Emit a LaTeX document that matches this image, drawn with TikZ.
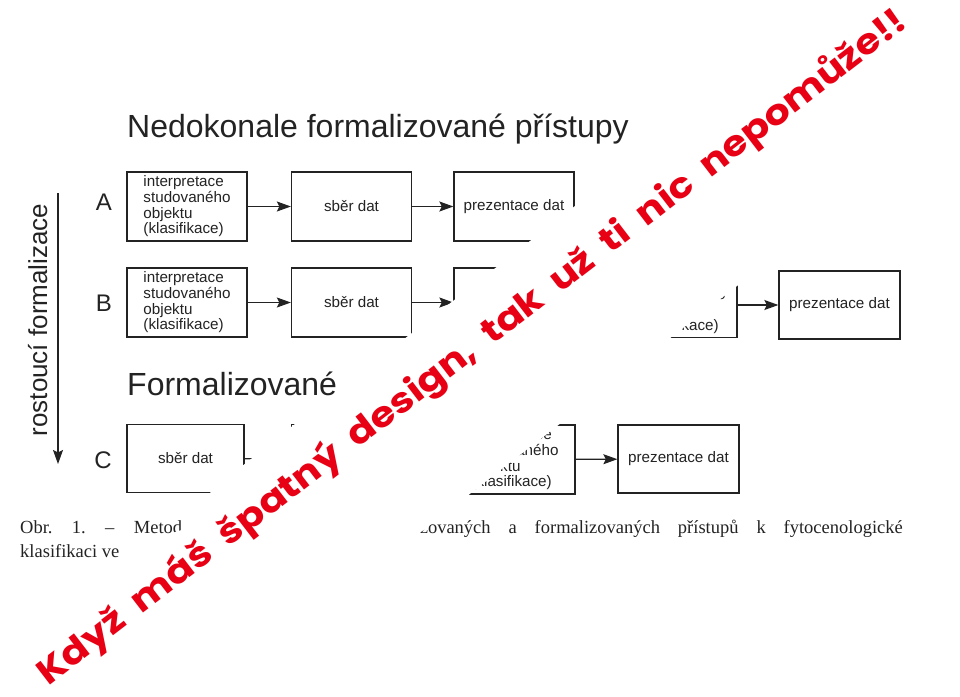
\documentclass[tikz,border=0pt]{standalone}
\usepackage{fontspec}
\usepackage{graphicx}
\setmainfont{Liberation Sans}
\newfontfamily\capfont{Liberation Serif}
\newfontfamily\memefont{Poppins}
\usetikzlibrary{arrows.meta}
\definecolor{ink}{RGB}{35,35,35}
\definecolor{memered}{RGB}{232,0,20}
\begin{document}
\begin{tikzpicture}[x=1pt,y=-1pt,
  box/.style={draw=ink, line width=1.3pt, minimum width=120pt, minimum height=69pt,
    inner sep=0pt, align=left, text=ink, font=\fontsize{15.2}{15.7}\selectfont},
  flow/.style={draw=ink, line width=1.3pt, -{Stealth[length=14pt,width=10pt,inset=2.5pt]}},
  rowlab/.style={inner sep=0pt, text=ink, font=\fontsize{24}{24}\selectfont},
  heading/.style={inner sep=0pt, anchor=base west, text=ink, font=\fontsize{32}{32}\selectfont},
  captext/.style={inner sep=0pt, text=ink, font=\capfont\fontsize{18.5}{22}\selectfont}]
\useasboundingbox (0,0) rectangle (960,696);
\fill[white] (0,0) rectangle (960,696);

% headings
\node[heading] (h1) at (127,137) {Nedokonale formalizované přístupy};
\node[heading] (h2) at (127,395) {Formalizované};

% growing formalisation axis
\coordinate (axtop) at (58,193);
\coordinate (axbot) at (58,464);
\draw[draw=ink, line width=1.2pt, -{Stealth[length=14pt,width=10pt,inset=2.5pt]}] (axtop) -- (axbot);
\node[rotate=90, anchor=base, inner sep=0pt, text=ink, font=\fontsize{26}{26}\selectfont] (axlab) at (47,320) {rostoucí formalizace};

% row labels
\node[rowlab] (la) at (104,202) {A};
\node[rowlab] (lb) at (104,303) {B};
\node[rowlab] (lc) at (103,460) {C};

% row A
\node[box] (a1) at (187,206.5) {interpretace\\studovaného\\objektu\\(klasifikace)};
\node[box] (a2) at (351.5,206.5) {sběr dat};
\node[box] (a3) at (514,206.5) {prezentace dat};
\draw[flow] (a1) -- (a2);
\draw[flow] (a2) -- (a3);

% row B
\node[box] (b1) at (187,302.5) {interpretace\\studovaného\\objektu\\(klasifikace)};
\node[box] (b2) at (351.5,302.5) {sběr dat};
\node[box] (b3) at (514,302.5) {};
\node[box, minimum width=110pt] (b4) at (682,303) {interpretace\\studovaného\\objektu\\(klasifikace)};
\node[box, minimum width=121pt, minimum height=68pt] (b5) at (839.5,305) {prezentace dat};
\draw[flow] (b1) -- (b2);
\draw[flow] (b2) -- (b3);
\draw[flow] (b3) -- (b4);
\draw[flow] (b4.east |- b5.west) -- (b5.west);

% row C
\node[box, minimum width=117pt, minimum height=68pt] (c1) at (185.5,458.5) {sběr dat};
\node[box] (c2) at (351.5,459) {};
\node[box] (c3) at (515,459.5) {interpretace\\studovaného\\objektu\\(klasifikace)};
\node[box, minimum width=121pt, minimum height=68pt] (c4) at (678.5,459) {prezentace dat};
\draw[flow] (c1) -- (c2);
\draw[flow] (c2) -- (c3);
\draw[flow] (c3) -- (c4);

% caption
\node[captext, anchor=base west] (cap1) at (20,533) {\hbox to 162pt{Obr.\hfill 1.\hfill –\hfill Metod}};
\node[captext, anchor=base east] (cap2) at (903,533) {\hbox to 483pt{zovaných\hfill a\hfill formalizovaných\hfill přístupů\hfill k\hfill fytocenologické}};
\node[captext, anchor=base west] (cap3) at (20,557) {klasifikaci ve};

% erased band
\fill[white] (846,-5) -- (295,424) -- (212,490) -- (188,528) -- (140,543) -- (-60,700)
  -- (205,700) -- (1111,-5) -- cycle;

% overlay slogan
\node[rotate=37.5, inner sep=0pt, text=memered] (meme) at (473,348)
  {\resizebox{1085pt}{\height}{\memefont\bfseries\fontsize{35}{35}\selectfont\spaceskip=0.42em\relax Když máš špatný design, tak už ti nic nepomůže!!}};
\end{tikzpicture}
\end{document}
